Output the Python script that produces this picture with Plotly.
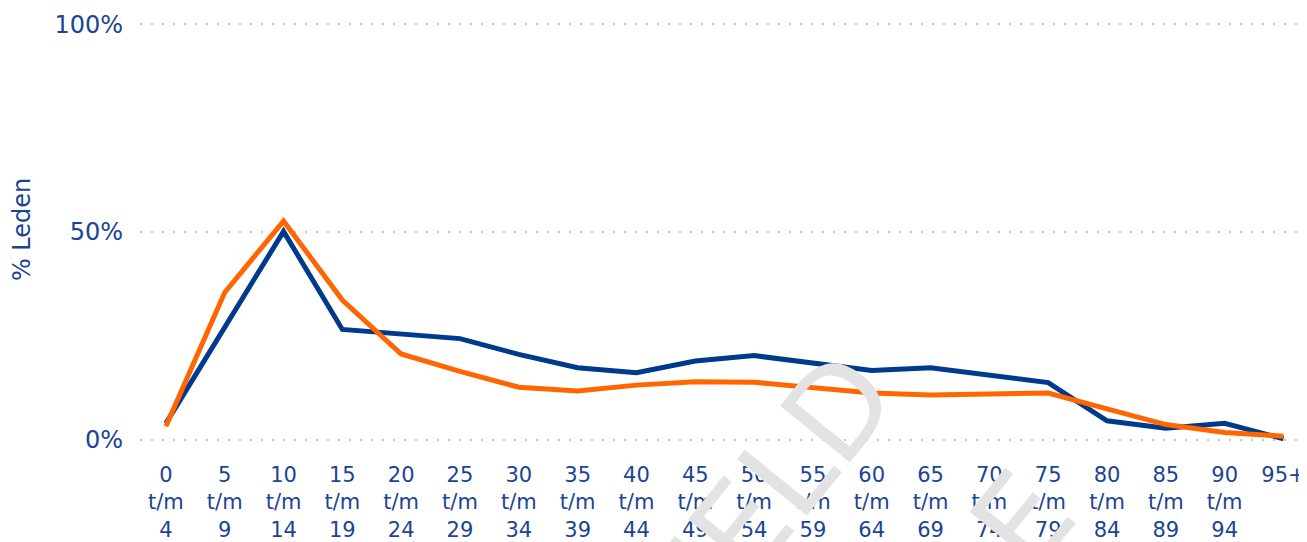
import plotly.graph_objects as go

categories = ["0 t/m 4", "5 t/m 9", "10 t/m 14", "15 t/m 19", "20 t/m 24", "25 t/m 29",
              "30 t/m 34", "35 t/m 39", "40 t/m 44", "45 t/m 49", "50 t/m 54", "55 t/m 59",
              "60 t/m 64", "65 t/m 69", "70 t/m 74", "75 t/m 79", "80 t/m 84", "85 t/m 89",
              "90 t/m 94", "95+"]
tick_labels = [c.replace(" ", "<br>") for c in categories]

blue_values = [3.9, 26.9, 50.1, 26.5, 25.3, 24.3, 20.5, 17.3, 16.1, 18.9, 20.2, 18.4,
               16.6, 17.3, 15.5, 13.7, 4.5, 2.7, 3.9, 0.2]
orange_values = [3.2, 35.4, 52.6, 33.6, 20.6, 16.4, 12.6, 11.7, 13.1, 13.9, 13.8, 12.5,
                 11.2, 10.7, 11.1, 11.2, 7.4, 3.6, 1.7, 0.8]

y_tickvals = [0, 50, 100]
y_ticktext = ["0%", "50%", "100%"]

TEXT = "#1a4494"
FONT = "DejaVu Sans"

W, H = 1299, 534
L, T, B = 132, 12, 84
PH = H - T - B


def paper_x(px):
    return (px - L) / (W - L)


def paper_y(py):
    return (T + PH - py) / PH


watermark = dict(xref="paper", yref="paper", textangle=-51,
                 showarrow=False, xanchor="center", yanchor="middle",
                 font=dict(size=123, color="#e3e3e3", family=FONT))

fig = go.Figure()
fig.add_trace(go.Scatter(x=categories, y=blue_values, mode="lines",
                         line=dict(color="#003a8c", width=5), cliponaxis=False,
                         showlegend=False, hoverinfo="skip"))
fig.add_trace(go.Scatter(x=categories, y=orange_values, mode="lines",
                         line=dict(color="#ff6600", width=5), cliponaxis=False,
                         showlegend=False, hoverinfo="skip"))

fig.update_layout(
    width=W, height=H,
    margin=dict(l=L, r=0, t=T, b=B, pad=0),
    paper_bgcolor="white", plot_bgcolor="white",
    font=dict(family=FONT, color=TEXT),
    xaxis=dict(type="category", range=[-0.44, 19.4], tickmode="array",
               tickvals=categories, ticktext=tick_labels, showgrid=False,
               zeroline=False, showline=False, ticks="", ticklabelstandoff=8,
               tickfont=dict(size=21, color=TEXT, family=FONT)),
    yaxis=dict(range=[-3, 101], tickmode="array", tickvals=y_tickvals,
               ticktext=y_ticktext, showgrid=True, gridcolor="#c4c4c4",
               gridwidth=2, griddash="2px,9px", zeroline=False, showline=False,
               ticks="", ticklabelstandoff=16,
               tickfont=dict(size=24, color=TEXT, family=FONT)),
    annotations=[
        dict(text="% Leden", xref="paper", yref="paper", x=paper_x(14),
             y=paper_y(225), textangle=-90, showarrow=False,
             xanchor="center", yanchor="middle",
             font=dict(size=24, color=TEXT, family=FONT)),
        dict(watermark, text="VOORBEELD", x=paper_x(620), y=paper_y(669)),
        dict(watermark, text="E", x=paper_x(1015), y=paper_y(519)),
    ],
)

fig.write_html("out.html")
